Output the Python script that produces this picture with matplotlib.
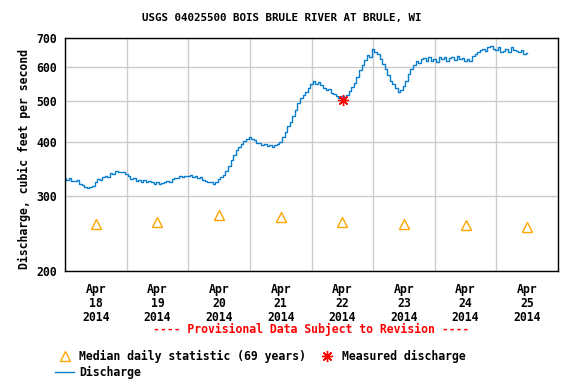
import matplotlib
matplotlib.use("Agg")
import matplotlib.pyplot as plt
from matplotlib.lines import Line2D
import numpy as np

# hourly discharge (cfs) starting Apr 18 2014 00:00
flow = [
    330, 327, 329, 325, 324, 326, 320, 318, 314, 312, 315, 316,
    322, 328, 327, 331, 333, 332, 338, 337, 343, 340, 341, 340,
    337, 333, 328, 330, 325, 327, 322, 326, 323, 325, 322, 320,
    323, 319, 321, 322, 325, 323, 328, 330, 329, 333, 331, 334,
    333, 335, 331, 334, 330, 331, 326, 325, 322, 323, 320, 322,
    328, 331, 336, 342, 352, 364, 374, 383, 390, 396, 403, 407,
    410, 407, 404, 399, 398, 393, 395, 391, 394, 389, 393, 396,
    401, 410, 422, 435, 446, 461, 475, 493, 508, 514, 523, 535,
    546, 556, 548, 552, 543, 536, 530, 532, 521, 518, 512, 508,
    513, 506, 514, 526, 538, 550, 568, 590, 606, 622, 640, 632,
    660, 648, 641, 625, 610, 594, 575, 556, 548, 536, 524, 530,
    540, 556, 576, 592, 606, 618, 612, 626, 629, 620, 631, 618,
    626, 615, 631, 624, 633, 620, 629, 632, 622, 634, 625, 629,
    618, 624, 620, 636, 642, 648, 656, 660, 652, 668, 672, 660,
    657, 666, 650, 654, 660, 648, 668, 655, 654, 650, 658, 644,
    646,
]
median_daily = [258, 260, 270, 267, 260, 258, 256, 254]
measured_day = [4.51]
measured_value = [501]
day_labels = ["Apr\n18\n2014", "Apr\n19\n2014", "Apr\n20\n2014", "Apr\n21\n2014",
              "Apr\n22\n2014", "Apr\n23\n2014", "Apr\n24\n2014", "Apr\n25\n2014"]

plt.rcParams["font.family"] = ["DejaVu Sans Mono"]
plt.rcParams["font.weight"] = "bold"

blue = "#0a7fcf"
orange = "#ffa500"

fig = plt.figure(figsize=(5.76, 3.84), dpi=100)
ax = fig.add_axes([0.1128, 0.2943, 0.856, 0.6067])

days = np.arange(len(flow)) / 24.0
ax.plot(days, flow, color=blue, lw=1.0, drawstyle="steps-mid")
ax.plot(np.arange(len(median_daily)) + 0.5, median_daily, ls="none", marker="^",
        ms=7, mfc="none", mec=orange, mew=1.0)
ax.plot(measured_day, measured_value, ls="none", marker=(8, 2, 0), ms=8,
        color="red", mew=1.0)

ax.set_yscale("log")
ax.set_ylim(200, 700)
yt = [200, 300, 400, 500, 600, 700]
ax.set_yticks(yt)
ax.set_yticklabels([str(v) for v in yt])
ax.yaxis.set_minor_locator(matplotlib.ticker.NullLocator())
ax.set_xlim(0, 8)
ax.set_xticks(np.arange(0, 9))
ax.set_xticklabels([""] * 9)
ax.set_xticks(np.arange(8) + 0.5, minor=True)
ax.set_xticklabels(day_labels, minor=True, linespacing=1.1)
ax.tick_params(axis="both", which="both", length=0, labelsize=8.3)
ax.tick_params(axis="x", which="minor", pad=9)
ax.tick_params(axis="y", pad=6)
ax.grid(True, which="major", color="#cccccc", lw=1.0)
ax.set_axisbelow(True)
for s in ax.spines.values():
    s.set_linewidth(1.0)
    s.set_color("black")

fig.text(0.49, 0.953, "USGS 04025500 BOIS BRULE RIVER AT BRULE, WI",
         ha="center", va="center", fontsize=7.8, fontweight="bold")
fig.text(0.043, 0.586, "Discharge, cubic feet per second", rotation=90,
         ha="center", va="center", fontsize=8.3, fontweight="bold")
fig.text(0.54, 0.141, "---- Provisional Data Subject to Revision ----",
         ha="center", va="center", fontsize=8.3, color="red", fontweight="bold")

handles = [
    Line2D([], [], ls="none", marker="^", ms=7, mfc="none", mec=orange, mew=1.0),
    Line2D([], [], color=blue, lw=1.0),
    Line2D([], [], ls="none", marker=(8, 2, 0), ms=8, color="red", mew=1.0),
]
labels = ["Median daily statistic (69 years)", "Discharge", "Measured discharge"]
fig.legend(handles, labels, ncol=2, loc="upper left", bbox_to_anchor=(0.096, 0.089),
           frameon=False, fontsize=8.3, handlelength=1.6, handletextpad=0.45,
           columnspacing=1.05, labelspacing=0.25, borderaxespad=0, borderpad=0,
           prop={"weight": "bold", "size": 8.3})

fig.savefig("out.png", dpi=100)
